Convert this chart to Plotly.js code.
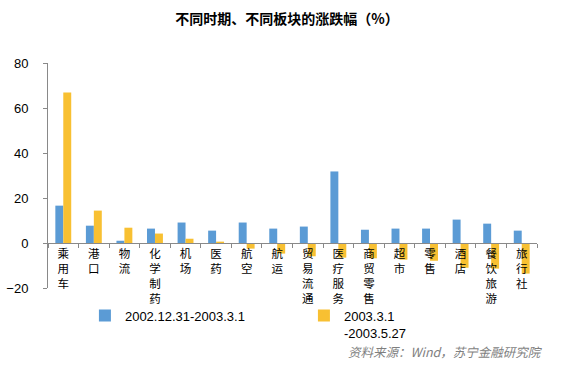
<!DOCTYPE html>
<html>
<head>
<meta charset="utf-8">
<script src="https://cdn.plot.ly/plotly-3.0.1.min.js"></script>
<style>html,body{margin:0;padding:0;background:#fff;}#chart{width:574px;height:370px;}</style>
</head>
<body>
<div id="chart"></div>
<script>
var categories = ["乘用车","港口","物流","化学制药","机场","医药","航空","航运","贸易流通","医疗服务","商贸零售","超市","零售","酒店","餐饮旅游","旅行社"];
var period1Name = "2002.12.31-2003.3.1";
var period1 = [16.6, 7.7, 1.0, 6.4, 9.1, 5.5, 9.1, 6.4, 7.3, 31.8, 5.9, 6.4, 6.4, 10.4, 8.6, 5.5];
var period2Name = "2003.3.1<br>-2003.5.27";
var period2 = [66.9, 14.4, 6.8, 4.2, 1.9, 0.6, -2.5, -4.7, -5.9, -6.5, -6.8, -7.4, -7.9, -11.0, -11.4, -13.6];
var yTicks = [-20, 0, 20, 40, 60, 80];

var tickText = categories.map(function(c){ return c.split("").join("<br>"); });

var cjk = '"Noto Sans CJK SC", "Liberation Sans", sans-serif';
var latin = '"Liberation Sans", Arial, sans-serif';

var data = [
  {type:"bar", name: period1Name, x: categories, y: period1, marker:{color:"#5B9BD5"}},
  {type:"bar", name: period2Name, x: categories, y: period2, marker:{color:"#F8C032"}}
];

var layout = {
  width: 574, height: 370,
  margin: {l:48, r:37, t:63, b:82},
  paper_bgcolor: "#ffffff", plot_bgcolor: "#ffffff",
  barmode: "group", bargap: 0.48, bargroupgap: 0,
  showlegend: true,
  title: {text: "<b>不同时期、不同板块的涨跌幅（%）</b>", font:{family: cjk, size:14, color:"#000"}, x:0.5, xref:"container", y: 0.948, yref:"container", yanchor:"middle"},
  xaxis: {
    type: "category", tickmode: "array", tickvals: categories, ticktext: tickText,
    anchor: "free", position: 0.2,
    showline: true, linecolor: "#898989", linewidth: 1,
    ticks: "outside", tickson: "boundaries", ticklen: 4, tickcolor: "#898989",
    tickfont: {family: cjk, size: 11.5, color: "#000"},
    tickangle: 0, showgrid: false, zeroline: false, fixedrange: true
  },
  yaxis: {
    range: [-20, 80], tickmode: "array", tickvals: yTicks,
    showline: true, linecolor: "#898989", linewidth: 1,
    ticks: "outside", ticklen: 4, tickcolor: "#898989",
    tickfont: {family: latin, size: 13, color: "#000"},
    showgrid: false, zeroline: false, ticklabelstandoff: 12
  },
  legend: {
    orientation: "h", x: 0.0755, xanchor: "left", y: -0.056, yanchor: "top",
    font: {family: latin, size: 13, color: "#000"},
    valign: "top", entrywidth: 174, entrywidthmode: "pixels",
    traceorder: "normal", bgcolor: "rgba(0,0,0,0)"
  },
  annotations: [{
    text: "资料来源：Wind，苏宁金融研究院", xref: "paper", yref: "paper",
    x: 1.016, y: -0.284, xanchor: "right", yanchor: "middle", showarrow: false,
    font: {family: cjk, size: 12.5, color: "#7F7F7F", style: "italic"}
  }]
};

Plotly.newPlot("chart", data, layout, {staticPlot: true, displayModeBar: false});
</script>
</body>
</html>
